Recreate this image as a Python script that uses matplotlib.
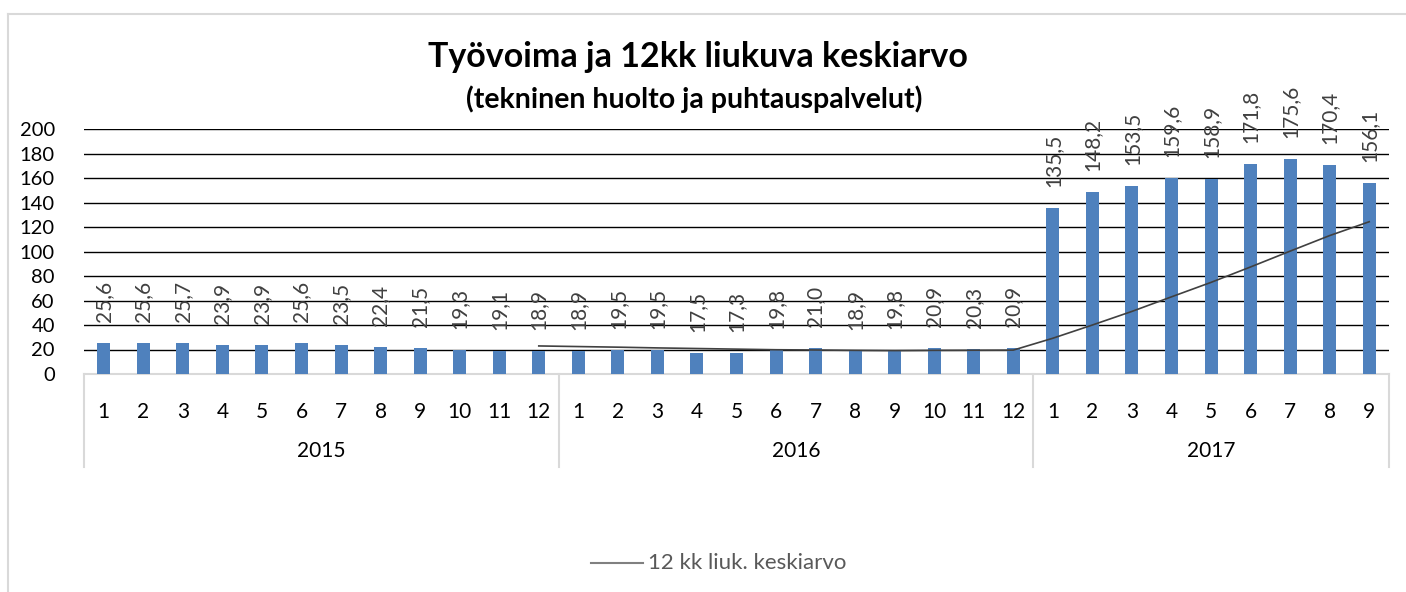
import matplotlib
matplotlib.use("Agg")
import matplotlib.pyplot as plt
from matplotlib.lines import Line2D
import matplotlib.transforms as mtransforms

plt.rcParams["font.family"] = ["Lato", "DejaVu Sans"]

# data
years = ["2015", "2016", "2017"]
months_per_year = [12, 12, 9]
values = [
    25.6, 25.6, 25.7, 23.9, 23.9, 25.6, 23.5, 22.4, 21.5, 19.3, 19.1, 18.9,
    18.9, 19.5, 19.5, 17.5, 17.3, 19.8, 21.0, 18.9, 19.8, 20.9, 20.3, 20.9,
    135.5, 148.2, 153.5, 159.6, 158.9, 171.8, 175.6, 170.4, 156.1,
]
# 12 kk liukuva keskiarvo, alkaa 2015/12
ma_start = 11
moving_avg = [
    22.9, 22.4, 21.9, 21.3, 20.8, 20.3, 19.8, 19.6, 19.3, 19.1, 19.3, 19.4,
    19.5, 29.2, 40.0, 51.1, 63.0, 74.8, 87.4, 100.3, 113.0, 124.3,
]
y_ticks = [0, 20, 40, 60, 80, 100, 120, 140, 160, 180, 200]

W, H = 1406, 592
fig = plt.figure(figsize=(W / 100, H / 100), dpi=100)

# outer chart border
fig.add_artist(Line2D([8 / W, 1], [1 - 14 / H, 1 - 14 / H], color="#d9d9d9", lw=1.5))
fig.add_artist(Line2D([8 / W, 8 / W], [0, 1 - 14 / H], color="#d9d9d9", lw=1.5))

left, right, top, base = 84, 1389, 129, 374
ax = fig.add_axes([left / W, 1 - base / H, (right - left) / W, (base - top) / H])

x = list(range(len(values)))
ax.bar(x, values, width=0.33, color="#4f81bd", zorder=3)
ax.plot(range(ma_start, ma_start + len(moving_avg)), moving_avg,
        color="#404040", lw=1.2, zorder=4)

for xi, v in zip(x, values):
    ax.annotate(f"{v:.1f}".replace(".", ","), (xi, v), xytext=(0, 21),
                textcoords="offset pixels", rotation=90, ha="center", va="bottom",
                fontsize=15, color="#404040", clip_on=False, zorder=5)

ax.set_xlim(-0.5, len(values) - 0.5)
ax.set_ylim(0, 200)
ax.set_yticks(y_ticks)
ax.set_yticklabels([str(t) for t in y_ticks], fontsize=14.5, color="black")
ax.tick_params(axis="y", length=0, pad=21)
ax.yaxis.grid(True, color="black", lw=1)
ax.set_axisbelow(True)

month_labels = []
for n in months_per_year:
    month_labels += [str(m) for m in range(1, n + 1)]
ax.set_xticks(x)
ax.set_xticklabels(month_labels, fontsize=15)
ax.tick_params(axis="x", length=0, pad=20)

for s in ["left", "right", "top"]:
    ax.spines[s].set_visible(False)
ax.spines["bottom"].set_color("#d9d9d9")
ax.spines["bottom"].set_linewidth(1.5)

# year level of the category axis
trans = mtransforms.blended_transform_factory(ax.transData, ax.transAxes)
depth = -(467 - base) / (base - top)
year_row = -(451 - base) / (base - top)
start = 0
for yr, n in zip(years, months_per_year):
    ax.plot([start - 0.5, start - 0.5], [0, depth], transform=trans,
            color="#d9d9d9", lw=1.5, clip_on=False)
    ax.text(start + (n - 1) / 2, year_row, yr, transform=trans,
            ha="center", va="center", fontsize=15)
    start += n
ax.plot([start - 0.5, start - 0.5], [0, depth], transform=trans,
        color="#d9d9d9", lw=1.5, clip_on=False)

fig.text(698 / W, 1 - 57 / H, "Työvoima ja 12kk liukuva keskiarvo",
         ha="center", va="center", fontsize=24.5, fontweight="bold")
fig.text(694 / W, 1 - 99 / H, "(tekninen huolto ja puhtauspalvelut)",
         ha="center", va="center", fontsize=20.5, fontweight="bold")

# legend
fig.add_artist(Line2D([591 / W, 643 / W], [1 - 563 / H, 1 - 563 / H], color="#808080", lw=1.5))
fig.text(648 / W, 1 - 563 / H, "12 kk liuk. keskiarvo", ha="left", va="center",
         fontsize=16, color="#595959")

fig.savefig("out.png", dpi=100)
